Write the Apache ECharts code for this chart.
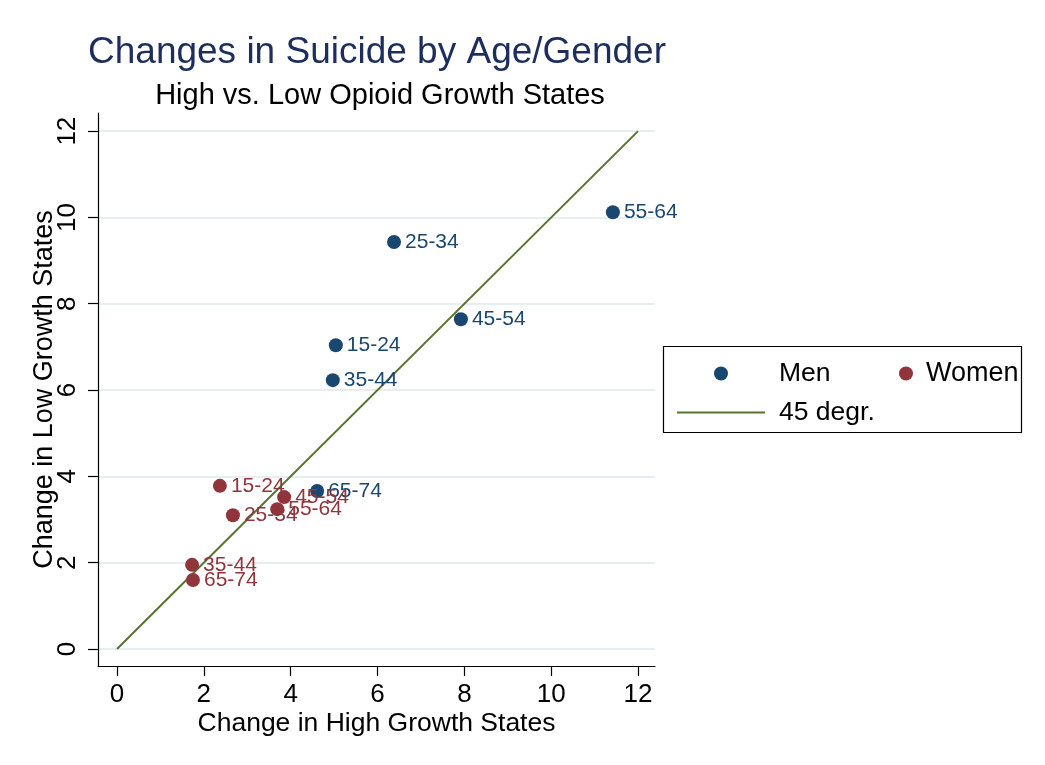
<!DOCTYPE html>
<html>
<head>
<meta charset="utf-8">
<script src="https://cdn.jsdelivr.net/npm/echarts@6/dist/echarts.min.js"></script>
<style>
  html, body { margin: 0; padding: 0; background: #ffffff; }
  #chart { width: 1045px; height: 765px; }
</style>
</head>
<body>
<div id="chart"></div>
<script>
// Age groups for each point
const menAges = ['15-24', '25-34', '35-44', '45-54', '55-64', '65-74'];
const womenAges = ['15-24', '25-34', '35-44', '45-54', '55-64', '65-74'];

// Change in suicide rate, high opioid growth states (x) vs low growth states (y)
const menHigh = [5.04, 6.38, 4.97, 7.92, 11.42, 4.61];
const menLow = [7.04, 9.43, 6.23, 7.64, 10.12, 3.66];
const womenHigh = [2.37, 2.67, 1.73, 3.85, 3.69, 1.75];
const womenLow = [3.78, 3.10, 1.95, 3.52, 3.24, 1.60];

// Reference 45-degree line endpoints
const diagonal = [0, 12];

// Axis tick values
const tickValues = [0, 2, 4, 6, 8, 10, 12];

const FONT = '"Liberation Sans", Arial, Helvetica, sans-serif';
const NAVY = '#1a476f';
const MAROON = '#90353b';
const GREEN = '#55752f';

function points(xs, ys, ages) {
  return xs.map((x, i) => ({ value: [x, ys[i]], name: ages[i] }));
}

const chart = echarts.init(document.getElementById('chart'), null, { renderer: 'canvas' });

const labelStyle = (color) => ({
  show: true,
  position: 'right',
  distance: 4,
  formatter: (p) => p.name,
  color: color,
  fontFamily: FONT,
  fontSize: 21
});

chart.setOption({
  backgroundColor: '#ffffff',
  animation: false,
  title: [
    {
      text: 'Changes in Suicide by Age/Gender',
      left: 372, top: 29, textAlign: 'center',
      textStyle: { color: '#1d2d5e', fontFamily: FONT, fontSize: 37, fontWeight: 'normal' }
    },
    {
      text: 'High vs. Low Opioid Growth States',
      left: 375, top: 76, textAlign: 'center',
      textStyle: { color: '#000000', fontFamily: FONT, fontSize: 29, fontWeight: 'normal' }
    }
  ],
  grid: { left: 98, right: 390, top: 113, bottom: 99, containLabel: false },
  xAxis: {
    type: 'value',
    min: -0.437,
    max: 12.39,
    name: 'Change in High Growth States',
    nameLocation: 'middle',
    nameGap: 44,
    nameMoveOverlap: false,
    nameTextStyle: { color: '#000', fontFamily: FONT, fontSize: 26.5 },
    axisLine: { show: true, onZero: false, lineStyle: { color: '#000', width: 1.2 } },
    axisTick: { show: true, length: 10, customValues: tickValues, lineStyle: { color: '#000', width: 1.2 } },
    axisLabel: { customValues: tickValues, margin: 16, color: '#000', fontFamily: FONT, fontSize: 26 },
    splitLine: { show: false }
  },
  yAxis: {
    type: 'value',
    min: -0.394,
    max: 12.42,
    name: 'Change in Low Growth States',
    nameLocation: 'middle',
    nameGap: 40,
    nameMoveOverlap: false,
    nameRotate: 90,
    nameTextStyle: { color: '#000', fontFamily: FONT, fontSize: 27 },
    axisLine: { show: true, onZero: false, lineStyle: { color: '#000', width: 1.2 } },
    axisTick: { show: true, length: 10, customValues: tickValues, lineStyle: { color: '#000', width: 1.2 } },
    axisLabel: { customValues: tickValues, rotate: 90, margin: 17, color: '#000', fontFamily: FONT, fontSize: 26 },
    splitLine: { show: true, lineStyle: { color: '#e6eef1', width: 2 } }
  },
  legend: [
    {
      orient: 'vertical',
      left: 676, top: 360,
      padding: 0,
      itemWidth: 88, itemHeight: 14,
      itemGap: 12,
      data: [
        { name: 'Men', icon: 'circle' },
        { name: '45 degr.', itemStyle: { opacity: 0 }, lineStyle: { color: GREEN, width: 2, opacity: 1 } }
      ],
      textStyle: { color: '#000', fontFamily: FONT, fontSize: 26.5, lineHeight: 26, padding: [0, 0, 0, 9] }
    },
    {
      orient: 'horizontal',
      left: 899, top: 360,
      padding: 0,
      itemWidth: 14, itemHeight: 14,
      data: [{ name: 'Women', icon: 'circle' }],
      textStyle: { color: '#000', fontFamily: FONT, fontSize: 27, lineHeight: 26, padding: [0, 0, 0, 8] }
    }
  ],
  graphic: [
    {
      type: 'rect',
      shape: { x: 663.5, y: 346.5, width: 358, height: 86 },
      style: { fill: 'none', stroke: '#000', lineWidth: 1.2 },
      silent: true
    }
  ],
  series: [
    {
      name: '45 degr.',
      type: 'line',
      data: [[diagonal[0], diagonal[0]], [diagonal[1], diagonal[1]]],
      showSymbol: false,
      symbol: 'none',
      lineStyle: { color: GREEN, width: 2 },
      itemStyle: { color: GREEN },
      z: 2
    },
    {
      name: 'Men',
      type: 'scatter',
      data: points(menHigh, menLow, menAges),
      symbolSize: 14,
      itemStyle: { color: NAVY, opacity: 1 },
      label: labelStyle(NAVY),
      z: 3
    },
    {
      name: 'Women',
      type: 'scatter',
      data: points(womenHigh, womenLow, womenAges),
      symbolSize: 14,
      itemStyle: { color: MAROON, opacity: 1 },
      label: labelStyle(MAROON),
      z: 4
    }
  ]
});
</script>
</body>
</html>
